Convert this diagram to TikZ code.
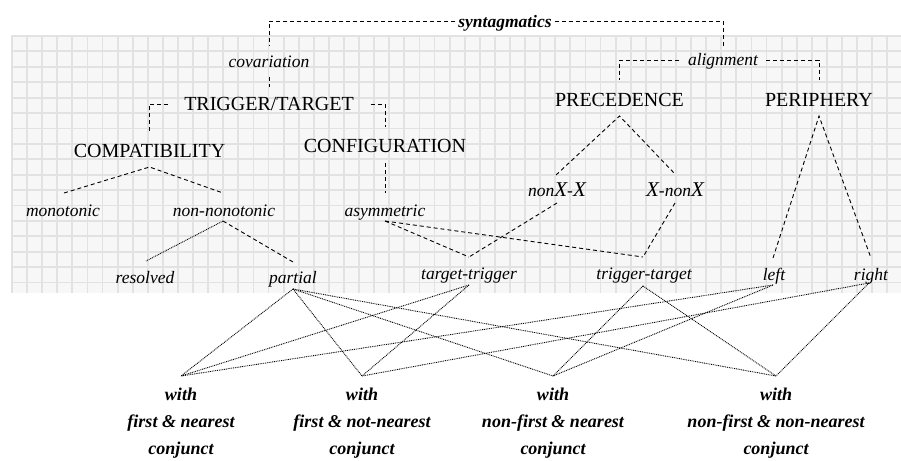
\documentclass[tikz,border=0pt]{standalone}
\usepackage{fontspec}
\setmainfont{Liberation Serif}
\definecolor{gridfill}{HTML}{F7F7F7}
\definecolor{gridline}{HTML}{E2E2E2}
\newcommand\capfont{\fontsize{20}{24}\selectfont}
\newcommand\itfont{\fontsize{17.5}{21}\selectfont\itshape}
\newcommand\synfont{\fontsize{17.5}{21}\selectfont\bfseries\itshape}
\newcommand\wfont{\fontsize{18}{27}\selectfont\bfseries\itshape}
\newcommand\bigX{{\fontsize{21}{21}\selectfont X}}

\begin{document}
\begin{tikzpicture}[x=1pt,y=-1pt,
  lbl/.style={inner sep=0pt, anchor=base},
  capnode/.style={lbl, font=\capfont},
  itl/.style={lbl, font=\itfont},
  dsh/.style={line width=0.9pt, dash pattern=on 4pt off 3pt},
  dts/.style={line width=0.9pt, dash pattern=on 0.9pt off 0.9pt},
  conj/.style={inner sep=0pt, anchor=north, align=center, font=\wfont},
  gridrule/.style={draw=gridline, line width=1.8pt}
]
\useasboundingbox (0,0) rectangle (901,460);

% squared paper behind the upper part
\fill[gridfill] (11,35) rectangle (901,293);
\begin{scope}
  \clip (11,35) rectangle (901,293);
  \foreach \i in {0,...,59}
    \draw[gridrule] ({12+\i*15.09},35) -- ({12+\i*15.09},293);
  \foreach \j in {0,...,16}
    \draw[gridrule] (11,{36+\j*15.4}) -- (901,{36+\j*15.4});
\end{scope}

% labels of the classification tree
\node[lbl, font=\synfont] (syn) at (505,28) {syntagmatics};
\node[itl] (cov)   at (269,67)  {covariation};
\node[itl] (align) at (723,66)  {alignment};
\node[capnode] (tt)    at (269,110) {TRIGGER/TARGET};
\node[capnode] (prec)  at (619.5,106) {PRECEDENCE};
\node[capnode] (peri)  at (819,106) {PERIPHERY};
\node[capnode] (comp)  at (149.5,157) {COMPATIBILITY};
\node[capnode] (conf)  at (385,152) {CONFIGURATION};
\node[itl] (mono)  at (63,216)  {monotonic};
\node[itl] (nonn)  at (224,216) {non-nonotonic};
\node[itl] (asym)  at (385,216) {asymmetric};
\node[itl] (nonxx) at (557,196) {non\bigX-\bigX};
\node[itl] (xnonx) at (675,196) {\bigX-non\bigX};
\node[itl] (res)   at (145,283) {resolved};
\node[itl] (part)  at (293,283) {partial};
\node[itl] (tgtr)  at (469,279) {target-trigger};
\node[itl] (trta)  at (644,279) {trigger-target};
\node[itl] (left)  at (774,280) {left};
\node[itl] (right) at (871,280) {right};

% agreement patterns
\node[conj] (w1) at (181,388) {with\\first \& nearest\\conjunct};
\node[conj] (w2) at (362,388) {with\\first \& not-nearest\\conjunct};
\node[conj] (w3) at (553,388) {with\\non-first \& nearest\\conjunct};
\node[conj] (w4) at (776,388) {with\\non-first \& non-nearest\\conjunct};

% brackets
\draw[dsh] ([shift={(-3,-7)}]syn.base west) -| ([shift={(0,-21)}]cov.base);
\draw[dsh] ([shift={(3,-7)}]syn.base east) -| ([shift={(0,-20)}]align.base);
\draw[dsh] ([shift={(0,10)}]cov.base) -- ([shift={(0,-23)}]tt.base);
\draw[dsh] ([shift={(-16,-6)}]tt.base west) -| ([shift={(0,-25)}]comp.base);
\draw[dsh] ([shift={(17,-6)}]tt.base east) -| ([shift={(0,-25)}]conf.base);
\draw[dsh] ([shift={(-9,-6)}]align.base west) -| ([shift={(0,-26)}]prec.base);
\draw[dsh] ([shift={(8,-6)}]align.base east) -| ([shift={(0,-26)}]peri.base);

% branches
\draw[dsh] ([shift={(1,-23)}]mono.base) -- ([shift={(0,10)}]comp.base) -- ([shift={(-1,-23)}]nonn.base);
\draw[dsh] ([shift={(0,11)}]conf.base) -- ([shift={(0,-23)}]asym.base);
\draw[dts] ([shift={(-1,5)}]nonn.base) -- ([shift={(1,-22)}]res.base);
\draw[dsh] ([shift={(-1,5)}]nonn.base) -- ([shift={(0,-21)}]part.base);
\draw[dsh] ([shift={(0,5)}]asym.base) -- ([shift={(0,-22)}]tgtr.base);
\draw[dsh] ([shift={(0,5)}]asym.base) -- ([shift={(-1,-22)}]trta.base);
\draw[dsh] ([shift={(-1,-21)}]nonxx.base) -- ([shift={(0,10)}]prec.base) -- ([shift={(0,-22)}]xnonx.base);
\draw[dsh] ([shift={(0,7)}]nonxx.base) -- ([shift={(0,-22)}]tgtr.base);
\draw[dsh] ([shift={(0,7)}]xnonx.base) -- ([shift={(-1,-22)}]trta.base);
\draw[dsh] ([shift={(-1,-22)}]left.base) -- ([shift={(0,10)}]peri.base) -- ([shift={(0,-22)}]right.base);

% feet of the leaves and tops of the patterns
\coordinate (part-foot)  at ([shift={(0,6)}]part.base);
\coordinate (tgtr-foot)  at ([shift={(0,6)}]tgtr.base);
\coordinate (trta-foot)  at ([shift={(-1,7)}]trta.base);
\coordinate (left-foot)  at ([shift={(-1,5)}]left.base);
\coordinate (right-foot) at ([shift={(-2,3)}]right.base);
\foreach \w in {w1,w2,w3,w4}
  \coordinate (\w-top) at ([shift={(0,-12)}]\w.north);

\foreach \a/\b in {part/w1, part/w2, part/w3, part/w4,
                   tgtr/w1, tgtr/w2, trta/w3, trta/w4,
                   left/w1, left/w3, right/w2, right/w4}
  \draw[dts] (\a-foot) -- (\b-top);
\end{tikzpicture}
\end{document}
